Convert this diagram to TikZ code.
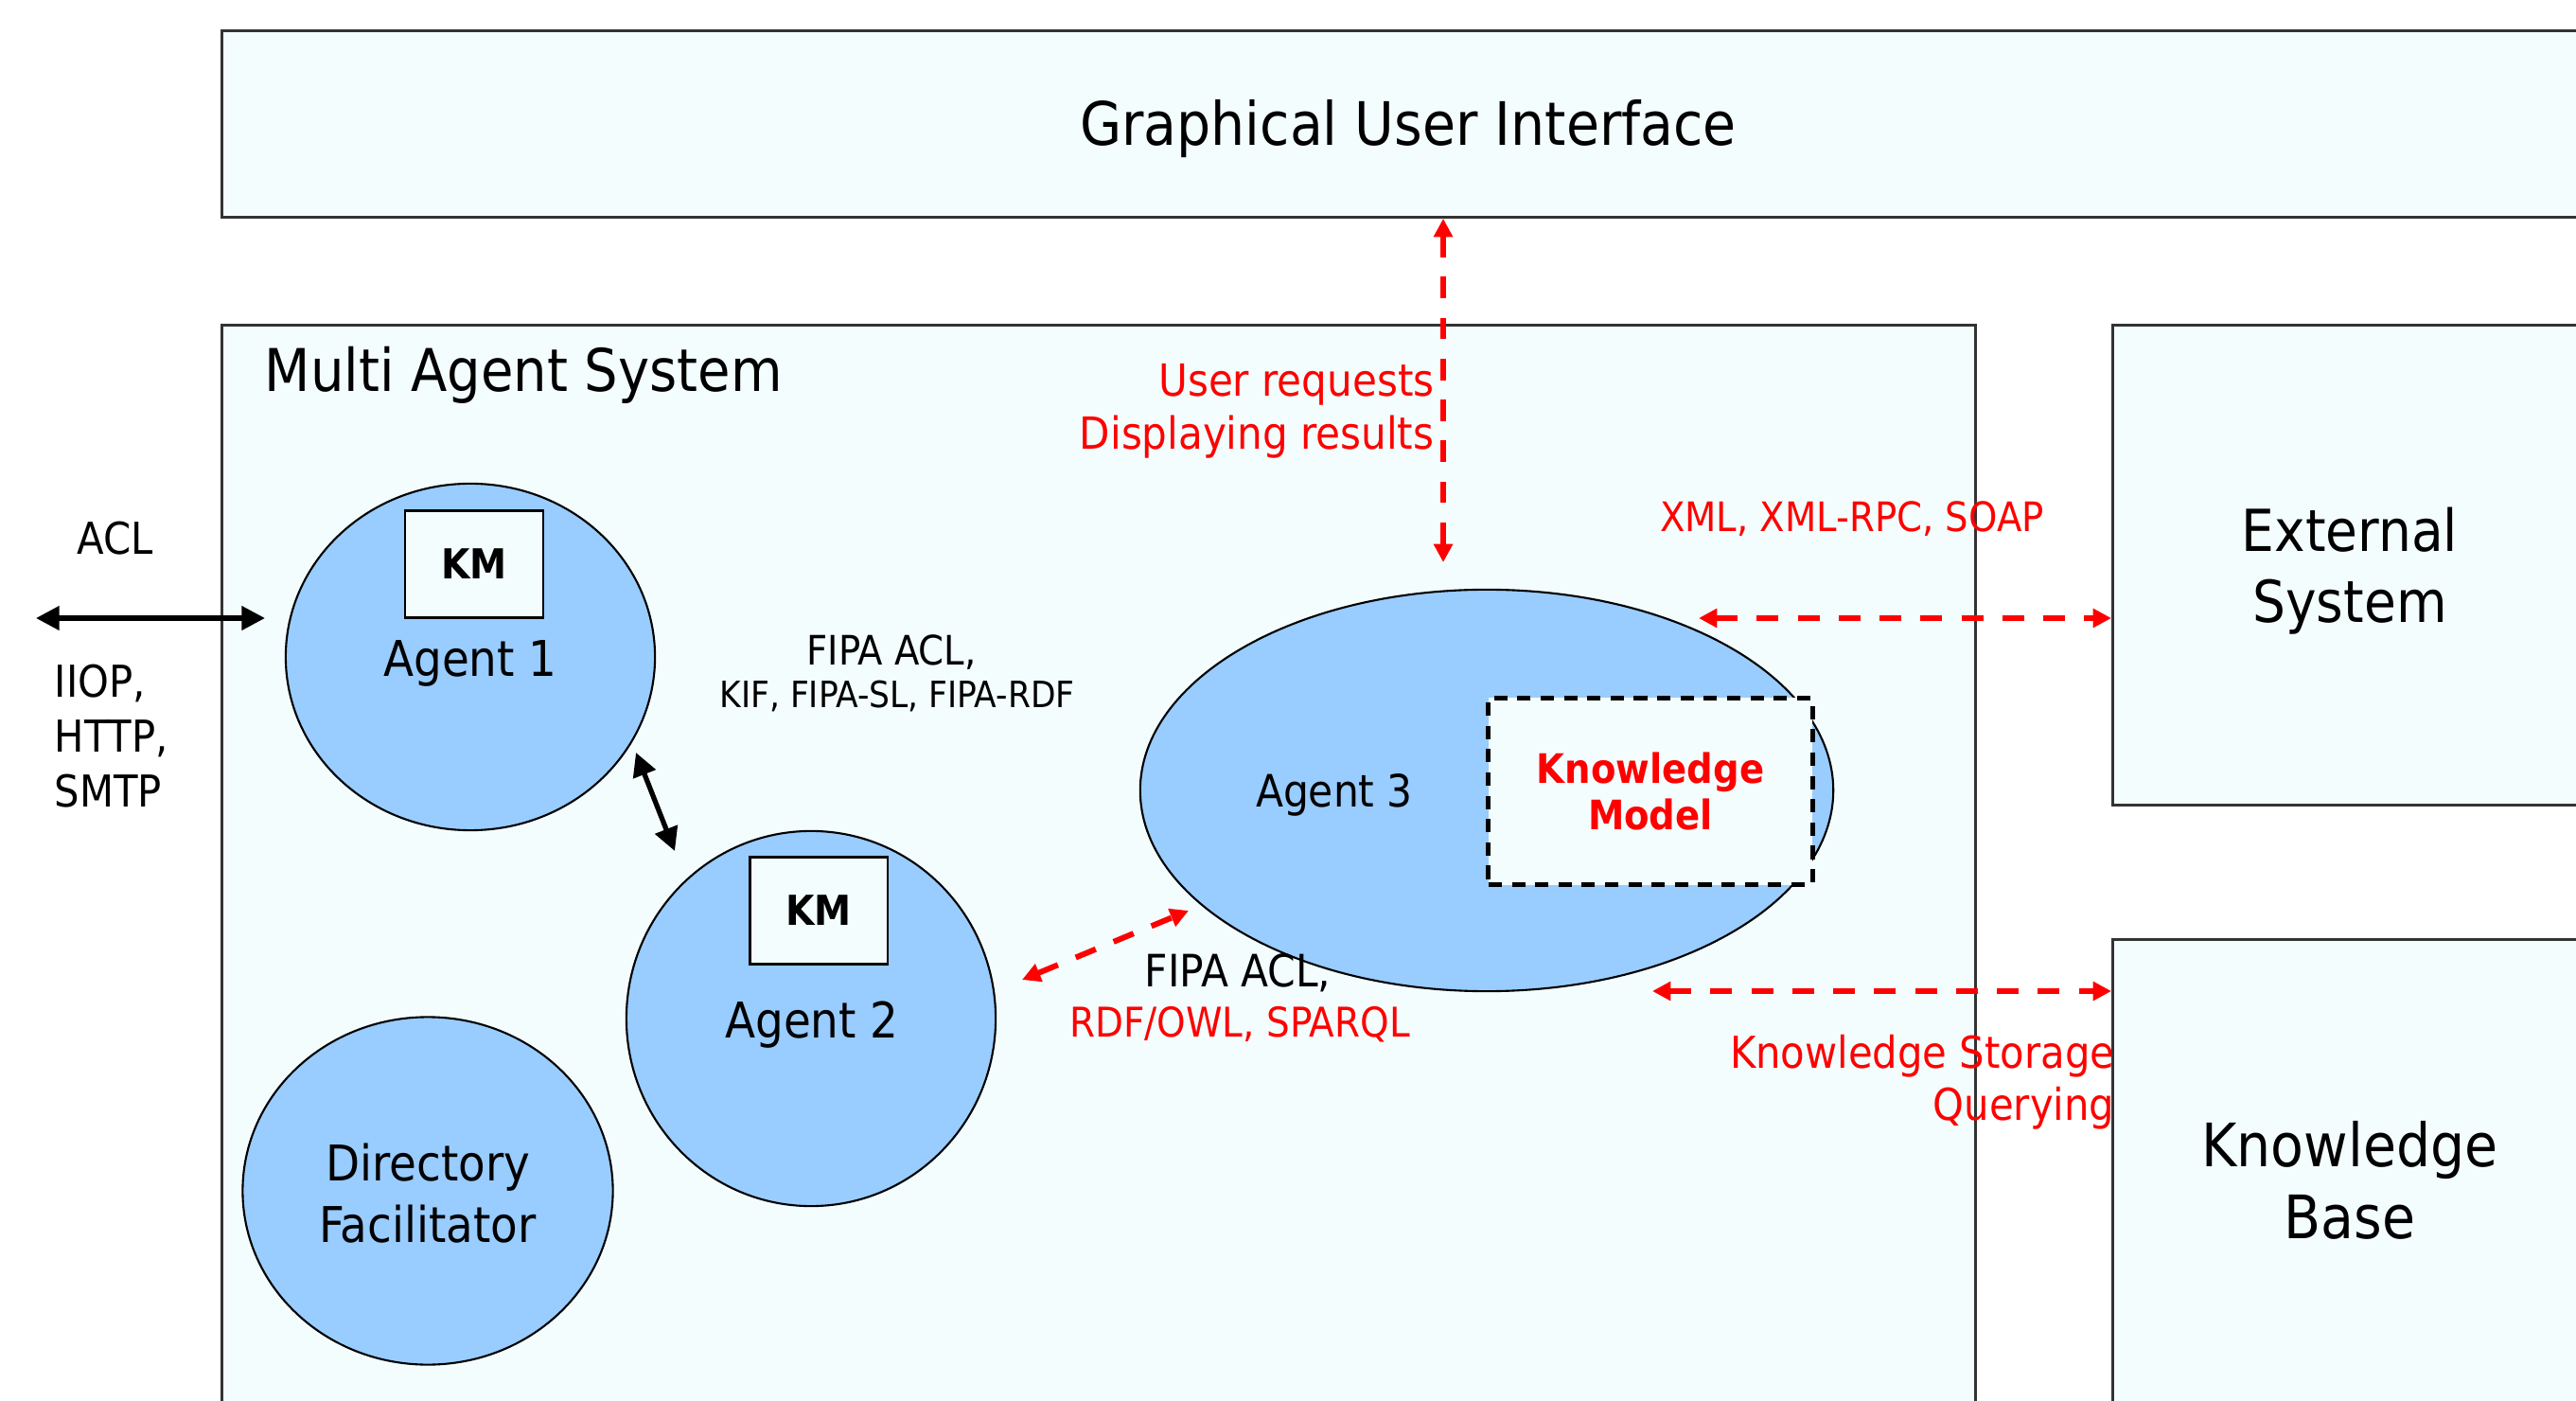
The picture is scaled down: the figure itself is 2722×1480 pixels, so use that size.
\documentclass[tikz,border=0pt]{standalone}
\usepackage{fontspec}
\setmainfont{DejaVu Sans Condensed}
\usetikzlibrary{shapes.geometric,arrows.meta}

\definecolor{paleBg}{RGB}{244,253,254}
\definecolor{agentBlue}{RGB}{153,204,255}
\definecolor{linkRed}{RGB}{255,0,0}
\definecolor{boxLine}{RGB}{51,51,51}

\begin{document}
\begin{tikzpicture}[x=0.01cm,y=-0.01cm,
  sysbox/.style={draw=boxLine,line width=0.8pt,fill=paleBg,inner sep=0pt,anchor=north west},
  agent/.style={ellipse,draw=black,line width=0.6pt,fill=agentBlue,inner sep=0pt},
  kmbox/.style={draw=black,line width=0.6pt,fill=paleBg,inner sep=0pt,
    font=\fontsize{12.4}{15}\selectfont\bfseries},
  label/.style={inner sep=0pt,anchor=base,align=center},
  redtext/.style={text=linkRed},
  redlink/.style={draw=linkRed,line width=1.7pt,dash pattern=on 6.5pt off 5.8pt,
    {Triangle[length=5.5pt,width=5.5pt]}-{Triangle[length=5.5pt,width=5.5pt]}},
  blacklink/.style={draw=black,line width=1.5pt,
    {Triangle[length=7pt,width=7pt]}-{Triangle[length=7pt,width=7pt]}}
]
\useasboundingbox (0,0) rectangle (2722,1480);
\clip (0,0) rectangle (2722,1480);
\fill[white] (0,0) rectangle (2722,1480);

%system boxes
\node[sysbox,minimum width=25.1cm,minimum height=1.97cm] (GuiBox) at (233,31) {};
\node[sysbox,minimum width=18.52cm,minimum height=13cm] (MasBox) at (233,342) {};
\node[sysbox,minimum width=5.04cm,minimum height=5.07cm] (ExtBox) at (2231,342) {};
\node[sysbox,minimum width=5.04cm,minimum height=6cm] (KbBox) at (2231,991) {};

% multi-line labels sit on their last line
\node[label,font=\fontsize{18}{21.5}\selectfont] (GuiLabel) at (1488,154) {Graphical User Interface};
\node[label,anchor=base west,font=\fontsize{17.7}{21.5}\selectfont] (MasLabel) at (279,414) {Multi Agent System};
\node[label,font=\fontsize{17.4}{21.5}\selectfont] (ExtLabel) at (2483,658) {External\\System};
\node[label,font=\fontsize{18}{21.5}\selectfont] (KbLabel) at (2483,1308) {Knowledge\\Base};

%agents
\node[agent,minimum width=3.90cm,minimum height=3.66cm] (Agent1) at (497,694) {};
\node[agent,minimum width=3.90cm,minimum height=3.96cm] (Agent2) at (857,1076) {};
\node[agent,minimum width=3.91cm,minimum height=3.67cm] (DirFac) at (452,1258) {};
\node[agent,minimum width=7.32cm,minimum height=4.24cm] (Agent3) at (1571,835) {};

\node[kmbox,minimum width=1.46cm,minimum height=1.13cm] (Agent1KM) at (501,596) {KM};
\node[kmbox,minimum width=1.45cm,minimum height=1.13cm] (Agent2KM) at (865,962) {KM};
\node[kmbox,dash pattern=on 4pt off 3pt,line width=1.4pt,align=center,text=linkRed,
  minimum width=3.42cm,minimum height=1.97cm,font=\fontsize{12.2}{14.2}\selectfont\bfseries]
  (KnowModel) at (1744,836) {Knowledge\\Model};

\node[label,font=\fontsize{14.8}{18.4}\selectfont] (Agent1Label) at (497,715) {Agent 1};
\node[label,font=\fontsize{14.8}{18.4}\selectfont] (Agent2Label) at (858,1096) {Agent 2};
\node[label,font=\fontsize{14.8}{18.4}\selectfont] (DirFacLabel) at (452,1312) {Directory\\Facilitator};
\node[label,font=\fontsize{13.4}{15}\selectfont] (Agent3Label) at (1410,853) {Agent 3};

%protocol labels
\node[label,font=\fontsize{13.2}{16.6}\selectfont] (AclLabel) at (122,586) {ACL};
\node[label,anchor=base west,align=left,font=\fontsize{13.2}{16.6}\selectfont] (TransLabel) at (57,853) {IIOP,\\HTTP,\\SMTP};
\node[label,font=\fontsize{12.2}{14}\selectfont] (FipaTop) at (942,703) {FIPA ACL,};
\node[label,font=\fontsize{10.9}{13}\selectfont] (LangTop) at (948,748) {KIF, FIPA-SL, FIPA-RDF};
\node[label,font=\fontsize{13.4}{15}\selectfont] (FipaBot) at (1308,1042) {FIPA ACL,};
\node[label,redtext,font=\fontsize{12.3}{14}\selectfont] (LangBot) at (1310,1095) {RDF/OWL, SPARQL};
\node[label,redtext,anchor=base east,align=right,font=\fontsize{13.3}{16.2}\selectfont] (UserLabel) at (1516,475) {User requests\\Displaying results};
\node[label,redtext,font=\fontsize{12.2}{14}\selectfont] (XmlLabel) at (1957,562) {XML, XML-RPC, SOAP};
\node[label,redtext,anchor=base east,align=right,font=\fontsize{13.2}{15.6}\selectfont] (StoreLabel) at (2235,1183) {Knowledge Storage\\Querying};

%links
\coordinate (AclLeft) at (38,653);
\coordinate (AclRight) at (280,653);
\coordinate (Link12Top) at (672,795);
\coordinate (Link12Bot) at (713,899);
\coordinate (Link23Left) at (1080,1035);
\coordinate (Link23Right) at (1256,962);
\coordinate (UserBot) at (1525,594);
\coordinate (ExtArrowL) at (1795,653);
\coordinate (KbArrowL) at (1746,1047);

\draw[blacklink] (AclLeft) -- (AclRight);
\draw[blacklink] (Link12Top) -- (Link12Bot);
\draw[redlink] (Link23Left) -- (Link23Right);
\draw[redlink] (UserBot |- GuiBox.south) -- (UserBot);
\draw[redlink] (ExtArrowL) -- (ExtArrowL -| ExtBox.west);
\draw[redlink] (KbArrowL) -- (KbArrowL -| KbBox.west);
\end{tikzpicture}
\end{document}
